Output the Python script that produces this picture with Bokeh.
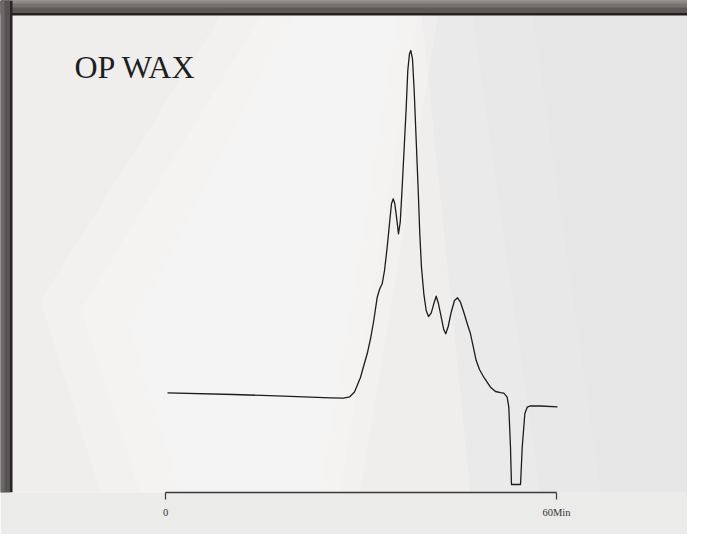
from bokeh.plotting import figure
from bokeh.models import Range1d, LinearAxis, FixedTicker, Label, BoxAnnotation
from bokeh.embed import file_html
from bokeh.resources import INLINE

# ---- data ----
TIME_MIN = [0.31, 10.43, 18.11, 25.32, 27.31, 28.24, 29.00, 29.92, 30.43, 30.95,
            31.46, 31.96, 32.49, 32.88, 33.25, 33.61, 34.02, 34.42, 34.68, 34.94,
            35.19, 35.45, 35.75, 36.02, 36.32, 36.63, 36.94, 37.18, 37.44, 37.64,
            37.90, 38.16, 38.47, 38.78, 39.02, 39.28, 39.64, 40.00, 40.36, 40.77,
            41.17, 41.54, 41.89, 42.31, 42.71, 43.01, 43.38, 43.84, 44.35, 44.81,
            45.27, 45.77, 46.39, 46.80, 47.68, 48.18, 48.84, 49.87, 50.64, 51.41,
            51.91, 52.43, 52.68, 52.94, 53.09, 54.48, 54.74, 55.14, 55.50, 56.01,
            57.54, 60.15]
SIGNAL = [0.78, 0.29, -0.20, -0.67, -0.78, -0.43, 1.01, 5.22, 8.70, 12.09,
          16.43, 21.74, 28.49, 30.93, 32.38, 36.23, 42.99, 50.72, 55.57, 57.01,
          55.57, 51.68, 46.87, 50.23, 60.38, 71.97, 83.57, 94.20, 99.04, 100.00,
          97.60, 88.41, 73.91, 59.42, 46.87, 37.19, 29.48, 24.64, 22.90, 23.86,
          26.58, 28.78, 26.58, 22.70, 19.04, 17.88, 20.00, 24.14, 27.54, 28.32,
          27.04, 24.14, 20.29, 17.88, 10.14, 7.54, 5.30, 2.41, 1.16, 0.81,
          0.67, -0.49, -3.39, -14.99, -25.80, -25.80, -14.99, -5.30, -3.39, -2.99,
          -3.04, -3.28]
TICKS = [0, 60]
TICK_LABELS = ["0", "60Min"]
TITLE = "OP WAX"

# ---- layout helpers (picture pixel -> data) ----
def px2x(px):
    return (px - 165) / 6.5167

def px2y(py):
    return (395 - py) / 3.45

W, H, AXIS_Y = 687, 534, 492

p = figure(width=W, height=H, output_backend="svg", toolbar_location=None,
           title=None, x_axis_location=None, y_axis_location=None,
           x_range=Range1d(px2x(0), px2x(W)), y_range=Range1d(px2y(AXIS_Y), px2y(0)),
           min_border_left=0, min_border_right=0, min_border_top=0,
           min_border_bottom=H - AXIS_Y,
           background_fill_color="#efeeec", border_fill_color="#ebebea",
           outline_line_color=None)
p.grid.visible = False

# soft photo-like shading
def shade(xs, ys, color, alpha):
    p.patch([px2x(x) for x in xs], [px2y(y) for y in ys],
            fill_color=color, fill_alpha=alpha, line_color=None)

shade([420, 700, 700, 470], [0, 0, 492, 492], "#dcdce2", 0.16)
shade([470, 700, 700, 540], [0, 0, 492, 492], "#dcdce2", 0.14)
shade([530, 700, 700, 600], [0, 0, 492, 492], "#dcdce2", 0.12)
shade([230, 440, 360, 100, 40], [0, 0, 492, 492, 300], "#ffffff", 0.2)
shade([270, 420, 340, 140, 80], [0, 0, 492, 492, 310], "#ffffff", 0.18)
shade([300, 400, 320, 180, 130], [0, 0, 492, 492, 330], "#ffffff", 0.15)

# frame edges (top and left)
for bottom, color in [(15, "#232121"), (12.5, "#5d5957"), (7, "#76726f"), (3, "#8c8886")]:
    p.add_layout(BoxAnnotation(bottom=px2y(bottom), fill_color=color, fill_alpha=1,
                               line_color=None))
for right, color in [(12, "#262424"), (9.5, "#575355"), (4, "#6c686a")]:
    p.add_layout(BoxAnnotation(right=px2x(right), fill_color=color,
                               fill_alpha=1, line_color=None))

# the trace
p.line(TIME_MIN, SIGNAL, line_color="#1c1c1c", line_width=1.3, line_join="round")

# title
p.add_layout(Label(x=px2x(74), y=px2y(66), text=TITLE, text_font="Liberation Serif",
                   text_font_size="32px", text_color="#1e1e1e", text_baseline="alphabetic",
                   text_align="left"))

# x axis
ax = LinearAxis(ticker=FixedTicker(ticks=TICKS), bounds=(TICKS[0], TICKS[-1]),
                major_label_overrides={t: l for t, l in zip(TICKS, TICK_LABELS)},
                axis_line_color="#3a3a3a", axis_line_width=1.3,
                major_tick_line_color="#3a3a3a", major_tick_line_width=1.2,
                major_tick_out=7, major_tick_in=0, minor_tick_out=0, minor_tick_in=0,
                major_label_text_font="Liberation Serif", major_label_text_font_size="10.5px",
                major_label_text_color="#333333", major_label_standoff=7)
p.add_layout(ax, "below")

open("out.html", "w").write(file_html(p, INLINE))
